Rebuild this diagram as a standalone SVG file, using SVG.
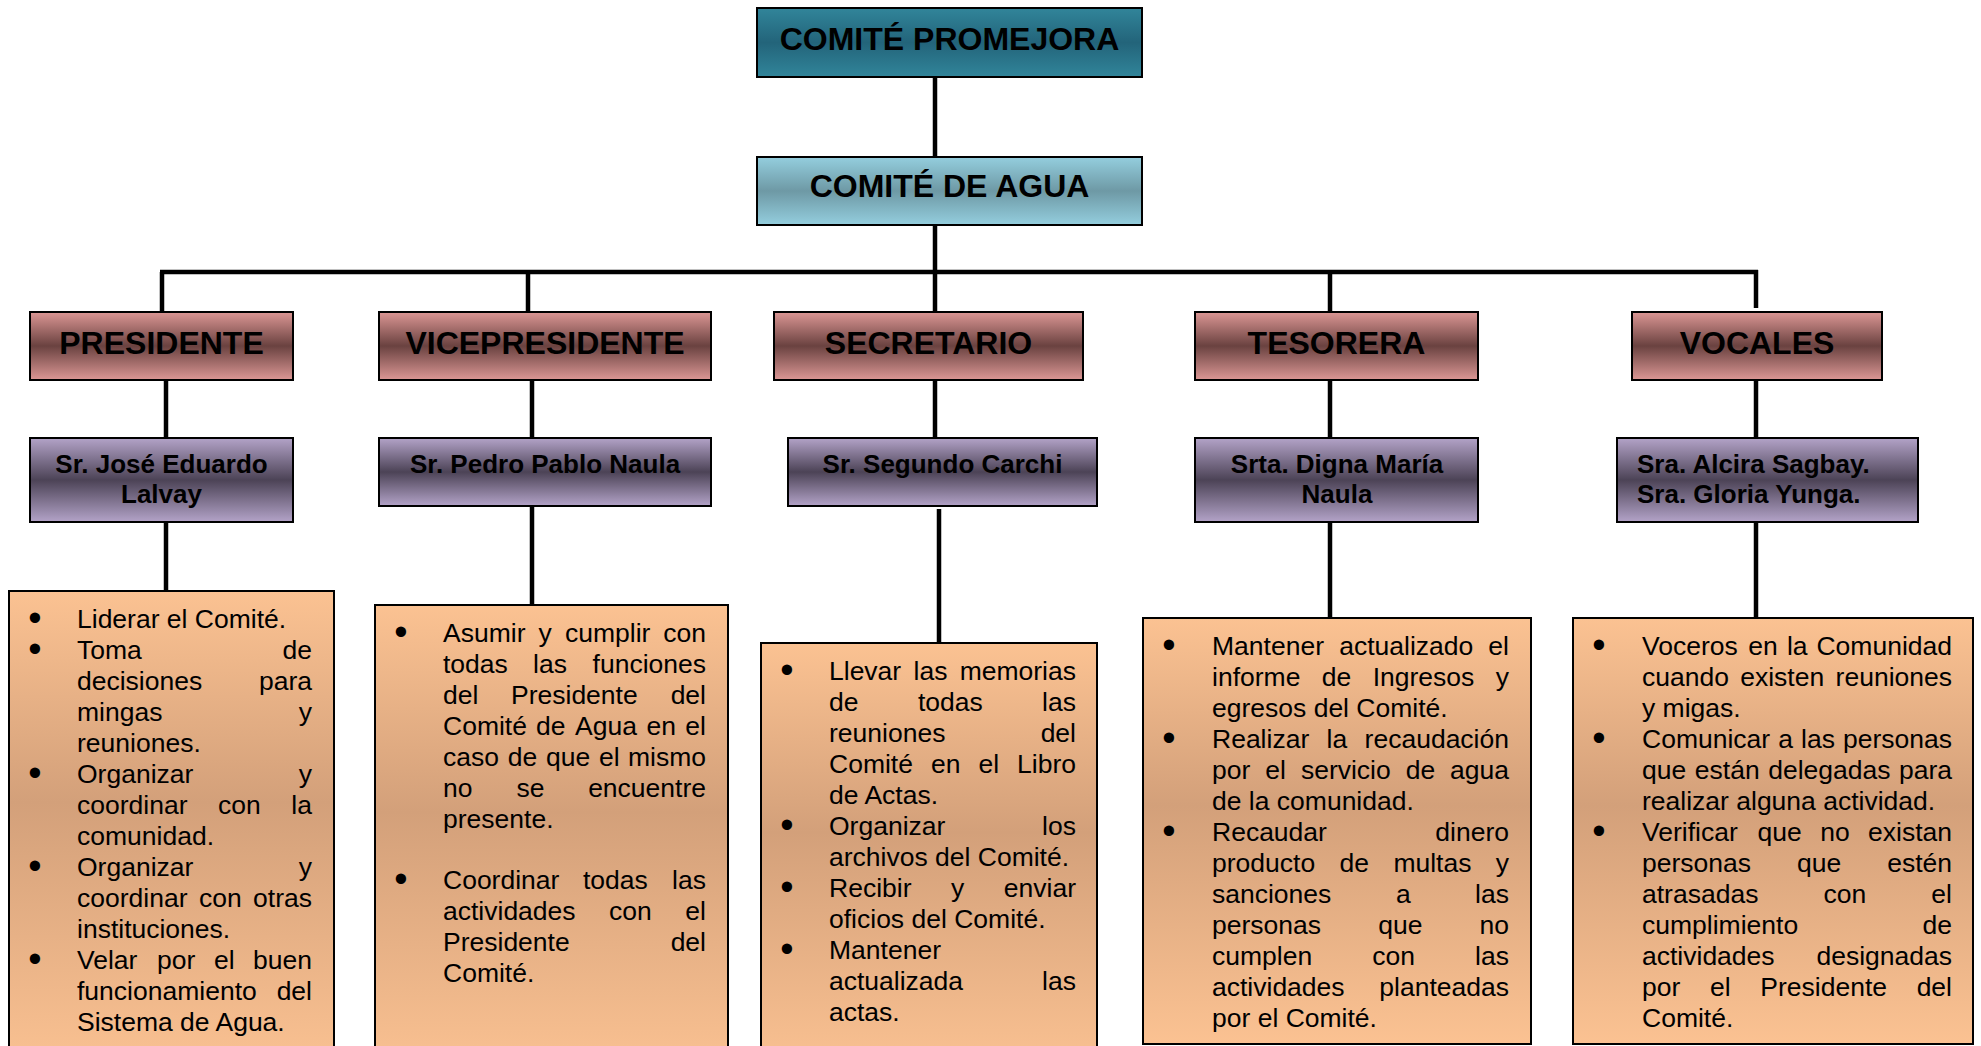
<svg xmlns="http://www.w3.org/2000/svg" width="1981" height="1046" viewBox="0 0 1981 1046">
<defs>
<linearGradient id="gTeal" x1="0" y1="0" x2="0" y2="1"><stop offset="0" stop-color="#31859a"/><stop offset="0.5" stop-color="#23647a"/><stop offset="1" stop-color="#31859a"/></linearGradient>
<linearGradient id="gAqua" x1="0" y1="0" x2="0" y2="1"><stop offset="0" stop-color="#94cede"/><stop offset="0.5" stop-color="#6e99a5"/><stop offset="1" stop-color="#94cede"/></linearGradient>
<linearGradient id="gRose" x1="0" y1="0" x2="0" y2="1"><stop offset="0" stop-color="#dc9795"/><stop offset="0.5" stop-color="#6a4240"/><stop offset="1" stop-color="#dc9795"/></linearGradient>
<linearGradient id="gLilac" x1="0" y1="0" x2="0" y2="1"><stop offset="0" stop-color="#b3a3c8"/><stop offset="0.5" stop-color="#4c4356"/><stop offset="1" stop-color="#b3a3c8"/></linearGradient>
<linearGradient id="gPeach" x1="0" y1="0" x2="0" y2="1"><stop offset="0" stop-color="#fbc292"/><stop offset="0.44" stop-color="#d3a07a"/><stop offset="1" stop-color="#fbc292"/></linearGradient>
</defs>
<style>
text{font-family:"Liberation Sans",Arial,sans-serif;fill:#000}
.box{stroke:#000;stroke-width:2}
.hd{font-weight:bold;font-size:32px;text-anchor:middle}
.nm{font-weight:bold;font-size:26px;text-anchor:middle}
.nl{font-weight:bold;font-size:26px}
.tx{font-size:26.5px}
.b{font-size:38px;text-anchor:middle}
.e{text-anchor:end}
#connectors line{stroke:#000;stroke-width:4.5}
</style>

<g id="connectors">
<line x1="935" y1="77" x2="935" y2="157"/>
<line x1="935" y1="225" x2="935" y2="312"/>
<line x1="160" y1="272" x2="1758" y2="272"/>
<line x1="162" y1="272" x2="162" y2="312"/>
<line x1="528" y1="274" x2="528" y2="312"/>
<line x1="1330" y1="274" x2="1330" y2="312"/>
<line x1="1756" y1="270" x2="1756" y2="308"/>
<line x1="166" y1="380" x2="166" y2="438"/>
<line x1="532" y1="380" x2="532" y2="438"/>
<line x1="935" y1="380" x2="935" y2="438"/>
<line x1="1330" y1="380" x2="1330" y2="438"/>
<line x1="1756" y1="380" x2="1756" y2="438"/>
<line x1="166" y1="522" x2="166" y2="591"/>
<line x1="532" y1="506" x2="532" y2="605"/>
<line x1="939" y1="509" x2="939" y2="643"/>
<line x1="1330" y1="522" x2="1330" y2="618"/>
<line x1="1756" y1="522" x2="1756" y2="618"/>
</g>

<g id="promejora">
<rect class="box" x="757" y="8" width="385" height="69" fill="url(#gTeal)"/>
<text class="hd" x="949.5" y="50">COMITÉ PROMEJORA</text>
</g>
<g id="agua">
<rect class="box" x="757" y="157" width="385" height="68" fill="url(#gAqua)"/>
<text class="hd" x="949.5" y="197">COMITÉ DE AGUA</text>
</g>

<g id="presidente">
<rect class="box" x="30" y="312" width="263" height="68" fill="url(#gRose)"/>
<text class="hd" x="161.5" y="354">PRESIDENTE</text>
</g>
<g id="vicepresidente">
<rect class="box" x="379" y="312" width="332" height="68" fill="url(#gRose)"/>
<text class="hd" x="545" y="354">VICEPRESIDENTE</text>
</g>
<g id="secretario">
<rect class="box" x="774" y="312" width="309" height="68" fill="url(#gRose)"/>
<text class="hd" x="928.5" y="354">SECRETARIO</text>
</g>
<g id="tesorera">
<rect class="box" x="1195" y="312" width="283" height="68" fill="url(#gRose)"/>
<text class="hd" x="1336.5" y="354">TESORERA</text>
</g>
<g id="vocales">
<rect class="box" x="1632" y="312" width="250" height="68" fill="url(#gRose)"/>
<text class="hd" x="1757" y="354">VOCALES</text>
</g>

<g id="n-jose">
<rect class="box" x="30" y="438" width="263" height="84" fill="url(#gLilac)"/>
<text class="nm" x="161.5" y="473">Sr. José Eduardo</text>
<text class="nm" x="161.5" y="503">Lalvay</text>
</g>
<g id="n-pedro">
<rect class="box" x="379" y="438" width="332" height="68" fill="url(#gLilac)"/>
<text class="nm" x="545" y="473">Sr. Pedro Pablo Naula</text>
</g>
<g id="n-segundo">
<rect class="box" x="788" y="438" width="309" height="68" fill="url(#gLilac)"/>
<text class="nm" x="942.5" y="473">Sr. Segundo Carchi</text>
</g>
<g id="n-digna">
<rect class="box" x="1195" y="438" width="283" height="84" fill="url(#gLilac)"/>
<text class="nm" x="1337" y="473">Srta. Digna María</text>
<text class="nm" x="1337" y="503">Naula</text>
</g>
<g id="n-vocales">
<rect class="box" x="1617" y="438" width="301" height="84" fill="url(#gLilac)"/>
<text class="nl" x="1637" y="473">Sra. Alcira Sagbay.</text>
<text class="nl" x="1637" y="503">Sra. Gloria Yunga.</text>
</g>

<g id="d-presidente">
<rect class="box" x="9" y="591" width="325" height="480" fill="url(#gPeach)"/>
<text class="b" x="35" y="631">•</text><text class="tx" x="77" y="628">Liderar el Comité.</text>
<text class="b" x="35" y="662">•</text><text class="tx" y="659"><tspan x="77">Toma</tspan><tspan class="e" x="312">de</tspan></text>
<text class="tx" y="690"><tspan x="77">decisiones</tspan><tspan class="e" x="312">para</tspan></text>
<text class="tx" y="721"><tspan x="77">mingas</tspan><tspan class="e" x="312">y</tspan></text>
<text class="tx" x="77" y="752">reuniones.</text>
<text class="b" x="35" y="786">•</text><text class="tx" y="783"><tspan x="77">Organizar</tspan><tspan class="e" x="312">y</tspan></text>
<text class="tx" y="814"><tspan x="77">coordinar</tspan><tspan x="218">con</tspan><tspan class="e" x="312">la</tspan></text>
<text class="tx" x="77" y="845">comunidad.</text>
<text class="b" x="35" y="879">•</text><text class="tx" y="876"><tspan x="77">Organizar</tspan><tspan class="e" x="312">y</tspan></text>
<text class="tx" y="907"><tspan x="77">coordinar</tspan><tspan x="199">con</tspan><tspan class="e" x="312">otras</tspan></text>
<text class="tx" x="77" y="938">instituciones.</text>
<text class="b" x="35" y="972">•</text><text class="tx" y="969"><tspan x="77">Velar</tspan><tspan x="157">por</tspan><tspan x="214">el</tspan><tspan class="e" x="312">buen</tspan></text>
<text class="tx" y="1000"><tspan x="77">funcionamiento</tspan><tspan class="e" x="312">del</tspan></text>
<text class="tx" x="77" y="1031">Sistema de Agua.</text>
</g>

<g id="d-vicepresidente">
<rect class="box" x="375" y="605" width="353" height="470" fill="url(#gPeach)"/>
<text class="b" x="401" y="645">•</text><text class="tx" y="642"><tspan x="443">Asumir</tspan><tspan x="538.5">y</tspan><tspan x="565">cumplir</tspan><tspan class="e" x="706">con</tspan></text>
<text class="tx" y="673"><tspan x="443">todas</tspan><tspan x="533">las</tspan><tspan class="e" x="706">funciones</tspan></text>
<text class="tx" y="704"><tspan x="443">del</tspan><tspan x="511">Presidente</tspan><tspan class="e" x="706">del</tspan></text>
<text class="tx" y="735"><tspan x="443">Comité</tspan><tspan x="536">de</tspan><tspan x="575">Agua</tspan><tspan x="646.5">en</tspan><tspan class="e" x="706">el</tspan></text>
<text class="tx" y="766"><tspan x="443">caso</tspan><tspan x="507.7">de</tspan><tspan x="546">que</tspan><tspan x="599">el</tspan><tspan class="e" x="706">mismo</tspan></text>
<text class="tx" y="797"><tspan x="443">no</tspan><tspan x="516.4">se</tspan><tspan class="e" x="706">encuentre</tspan></text>
<text class="tx" x="443" y="828">presente.</text>
<text class="b" x="401" y="892">•</text><text class="tx" y="889"><tspan x="443">Coordinar</tspan><tspan x="583">todas</tspan><tspan class="e" x="706">las</tspan></text>
<text class="tx" y="920"><tspan x="443">actividades</tspan><tspan x="609">con</tspan><tspan class="e" x="706">el</tspan></text>
<text class="tx" y="951"><tspan x="443">Presidente</tspan><tspan class="e" x="706">del</tspan></text>
<text class="tx" x="443" y="982">Comité.</text>
</g>

<g id="d-secretario">
<rect class="box" x="761" y="643" width="336" height="430" fill="url(#gPeach)"/>
<text class="b" x="787" y="683">•</text><text class="tx" y="680"><tspan x="829">Llevar</tspan><tspan x="913.5">las</tspan><tspan class="e" x="1076">memorias</tspan></text>
<text class="tx" y="711"><tspan x="829">de</tspan><tspan x="918">todas</tspan><tspan class="e" x="1076">las</tspan></text>
<text class="tx" y="742"><tspan x="829">reuniones</tspan><tspan class="e" x="1076">del</tspan></text>
<text class="tx" y="773"><tspan x="829">Comité</tspan><tspan x="931">en</tspan><tspan x="978.4">el</tspan><tspan class="e" x="1076">Libro</tspan></text>
<text class="tx" x="829" y="804">de Actas.</text>
<text class="b" x="787" y="838">•</text><text class="tx" y="835"><tspan x="829">Organizar</tspan><tspan class="e" x="1076">los</tspan></text>
<text class="tx" x="829" y="866">archivos del Comité.</text>
<text class="b" x="787" y="900">•</text><text class="tx" y="897"><tspan x="829">Recibir</tspan><tspan x="951">y</tspan><tspan class="e" x="1076">enviar</tspan></text>
<text class="tx" x="829" y="928">oficios del Comité.</text>
<text class="b" x="787" y="962">•</text><text class="tx" x="829" y="959">Mantener</text>
<text class="tx" y="990"><tspan x="829">actualizada</tspan><tspan class="e" x="1076">las</tspan></text>
<text class="tx" x="829" y="1021">actas.</text>
</g>

<g id="d-tesorera">
<rect class="box" x="1143" y="618" width="388" height="426" fill="url(#gPeach)"/>
<text class="b" x="1169" y="658">•</text><text class="tx" y="655"><tspan x="1212">Mantener</tspan><tspan x="1339.2">actualizado</tspan><tspan class="e" x="1509">el</tspan></text>
<text class="tx" y="686"><tspan x="1212">informe</tspan><tspan x="1321.8">de</tspan><tspan x="1372.7">Ingresos</tspan><tspan class="e" x="1509">y</tspan></text>
<text class="tx" x="1212" y="717">egresos del Comité.</text>
<text class="b" x="1169" y="751">•</text><text class="tx" y="748"><tspan x="1212">Realizar</tspan><tspan x="1326.6">la</tspan><tspan class="e" x="1509">recaudación</tspan></text>
<text class="tx" y="779"><tspan x="1212">por</tspan><tspan x="1265.3">el</tspan><tspan x="1300.9">servicio</tspan><tspan x="1405.7">de</tspan><tspan class="e" x="1509">agua</tspan></text>
<text class="tx" x="1212" y="810">de la comunidad.</text>
<text class="b" x="1169" y="844">•</text><text class="tx" y="841"><tspan x="1212">Recaudar</tspan><tspan class="e" x="1509">dinero</tspan></text>
<text class="tx" y="872"><tspan x="1212">producto</tspan><tspan x="1339.5">de</tspan><tspan x="1393.4">multas</tspan><tspan class="e" x="1509">y</tspan></text>
<text class="tx" y="903"><tspan x="1212">sanciones</tspan><tspan x="1395.9">a</tspan><tspan class="e" x="1509">las</tspan></text>
<text class="tx" y="934"><tspan x="1212">personas</tspan><tspan x="1378.2">que</tspan><tspan class="e" x="1509">no</tspan></text>
<text class="tx" y="965"><tspan x="1212">cumplen</tspan><tspan x="1372.3">con</tspan><tspan class="e" x="1509">las</tspan></text>
<text class="tx" y="996"><tspan x="1212">actividades</tspan><tspan class="e" x="1509">planteadas</tspan></text>
<text class="tx" x="1212" y="1027">por el Comité.</text>
</g>

<g id="d-vocales">
<rect class="box" x="1573" y="618" width="400" height="426" fill="url(#gPeach)"/>
<text class="b" x="1599" y="658">•</text><text class="tx" y="655"><tspan x="1642">Voceros</tspan><tspan x="1748.3">en</tspan><tspan x="1786.9">la</tspan><tspan class="e" x="1952">Comunidad</tspan></text>
<text class="tx" y="686"><tspan x="1642">cuando</tspan><tspan x="1740.2">existen</tspan><tspan class="e" x="1952">reuniones</tspan></text>
<text class="tx" x="1642" y="717">y migas.</text>
<text class="b" x="1599" y="751">•</text><text class="tx" y="748"><tspan x="1642">Comunicar</tspan><tspan x="1778.2">a</tspan><tspan x="1801">las</tspan><tspan class="e" x="1952">personas</tspan></text>
<text class="tx" y="779"><tspan x="1642">que</tspan><tspan x="1694.8">están</tspan><tspan x="1768.2">delegadas</tspan><tspan class="e" x="1952">para</tspan></text>
<text class="tx" x="1642" y="810">realizar alguna actividad.</text>
<text class="b" x="1599" y="844">•</text><text class="tx" y="841"><tspan x="1642">Verificar</tspan><tspan x="1757.6">que</tspan><tspan x="1820.2">no</tspan><tspan class="e" x="1952">existan</tspan></text>
<text class="tx" y="872"><tspan x="1642">personas</tspan><tspan x="1797">que</tspan><tspan class="e" x="1952">estén</tspan></text>
<text class="tx" y="903"><tspan x="1642">atrasadas</tspan><tspan x="1823.5">con</tspan><tspan class="e" x="1952">el</tspan></text>
<text class="tx" y="934"><tspan x="1642">cumplimiento</tspan><tspan class="e" x="1952">de</tspan></text>
<text class="tx" y="965"><tspan x="1642">actividades</tspan><tspan class="e" x="1952">designadas</tspan></text>
<text class="tx" y="996"><tspan x="1642">por</tspan><tspan x="1710">el</tspan><tspan x="1760.3">Presidente</tspan><tspan class="e" x="1952">del</tspan></text>
<text class="tx" x="1642" y="1027">Comité.</text>
</g>
</svg>
